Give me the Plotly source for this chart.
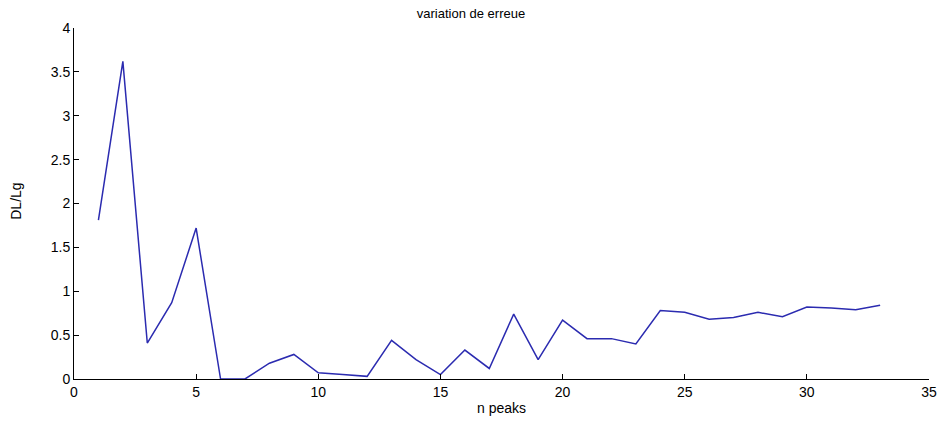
import plotly.graph_objects as go

n_peaks = list(range(1, 34))
dl_lg = [1.81, 3.62, 0.41, 0.87, 1.72, 0.0, 0.0, 0.18, 0.28, 0.07,
         0.05, 0.03, 0.44, 0.22, 0.05, 0.33, 0.12, 0.74, 0.22, 0.67,
         0.46, 0.46, 0.40, 0.78, 0.76, 0.68, 0.70, 0.76, 0.71, 0.82,
         0.81, 0.79, 0.84]

x_ticks = [0, 5, 10, 15, 20, 25, 30, 35]
y_ticks = [0, 0.5, 1, 1.5, 2, 2.5, 3, 3.5, 4]
y_labels = ["0", "0.5", "1", "1.5", "2", "2.5", "3", "3.5", "4"]

FONT = "Liberation Sans, Arial"
L, R, T, B = 74, 13, 28, 44
W, H = 942, 423
pw = W - L - R

fig = go.Figure(go.Scatter(x=n_peaks, y=dl_lg, mode="lines",
                           line=dict(color="#2b2bb0", width=1.5)))

axis_common = dict(showgrid=False, zeroline=False, showline=True, linecolor="black",
                   linewidth=1, ticks="inside", ticklen=5, tickcolor="black",
                   automargin=False,
                   tickfont=dict(family=FONT, size=14, color="black"))

fig.update_layout(
    width=W, height=H,
    margin=dict(l=L, r=R, t=T, b=B),
    paper_bgcolor="white", plot_bgcolor="white",
    showlegend=False,
    title=dict(text="variation de erreue", x=0.5, xanchor="center", y=0.968, yanchor="middle",
               font=dict(family=FONT, size=13, color="black")),
    xaxis=dict(range=[0, 35], tickvals=x_ticks,
               title=dict(text="n peaks", standoff=4,
                          font=dict(family=FONT, size=14, color="black")),
               **axis_common),
    yaxis=dict(range=[0, 4], tickvals=y_ticks, ticktext=y_labels, **axis_common),
    annotations=[dict(text="DL/Lg", xref="paper", yref="paper",
                      x=(16 - L) / pw, y=0.505, textangle=-90,
                      showarrow=False, xanchor="center", yanchor="middle",
                      font=dict(family=FONT, size=14, color="black"))],
)

fig.write_html("out.html")
